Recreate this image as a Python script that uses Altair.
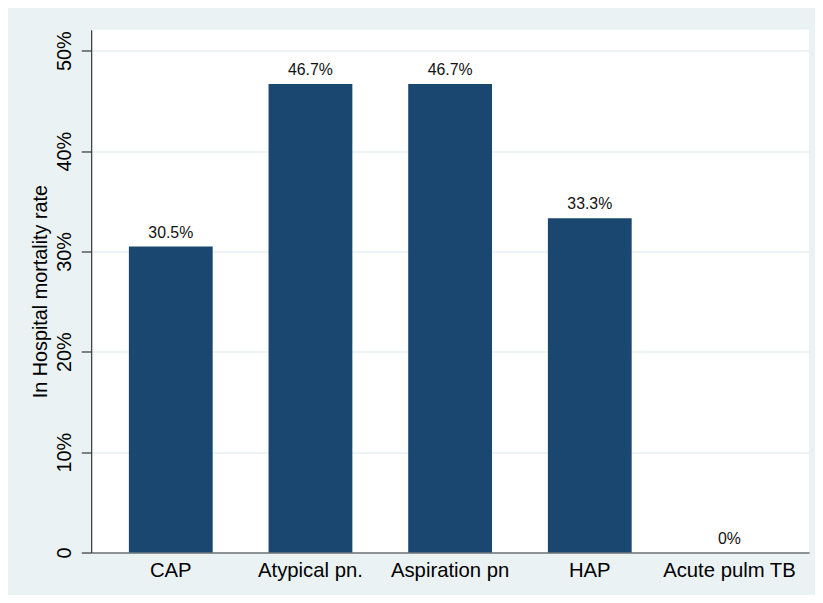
import altair as alt
import pandas as pd

categories = ["CAP", "Atypical pn.", "Aspiration pn", "HAP", "Acute pulm TB"]
rates = [30.5, 46.7, 46.7, 33.3, 0.0]
rate_labels = ["30.5%", "46.7%", "46.7%", "33.3%", "0%"]
y_ticks = [0, 10, 20, 30, 40, 50]

df = pd.DataFrame({"cat": categories, "rate": rates, "lab": rate_labels})

FONT = "Liberation Sans"

x_enc = alt.X(
    "cat:N",
    sort=categories,
    scale=alt.Scale(paddingInner=0.4, paddingOuter=0.27),
    axis=alt.Axis(
        title=None, labelAngle=0, ticks=False, labelFontSize=20.5, labelColor="#000",
        labelFont=FONT, labelPadding=8, domainColor="#333", domainWidth=1.2, grid=False,
    ),
)
y_scale = alt.Scale(domain=[0, 52.1], nice=False, zero=True)

bars = alt.Chart(df).mark_bar(color="#1a476f").encode(
    x=x_enc,
    y=alt.Y(
        "rate:Q",
        scale=y_scale,
        axis=alt.Axis(
            title="In Hospital mortality rate", titleFontSize=20, titleFont=FONT,
            titleFontWeight="normal", titleColor="#000", titlePadding=4,
            values=y_ticks, labelExpr="datum.value == 0 ? '0' : datum.value + '%'",
            labelAngle=-90, labelAlign="center", labelBaseline="bottom",
            labelFontSize=20, labelFont=FONT, labelColor="#000", labelPadding=7,
            tickSize=10, tickColor="#333", tickWidth=1.2,
            domainColor="#333", domainWidth=1.2,
            grid=True, gridColor="#e8f0f2", gridWidth=1.6,
        ),
    ),
)

text = alt.Chart(df).mark_text(
    dy=-14, fontSize=16, font=FONT, color="#111"
).encode(
    x=alt.X("cat:N", sort=categories),
    y=alt.Y("rate:Q", scale=y_scale),
    text="lab:N",
)

chart = (
    alt.layer(bars, text)
    .properties(
        width=725, height=528,
        background="#eaf2f3",
        padding={"left": 84, "top": 19, "right": 6, "bottom": 40},
        autosize=alt.AutoSizeParams(type="none"),
    )
    .configure_view(fill="white", stroke=None)
)

chart.save("out.html", embed_options={"renderer": "svg", "actions": False})
